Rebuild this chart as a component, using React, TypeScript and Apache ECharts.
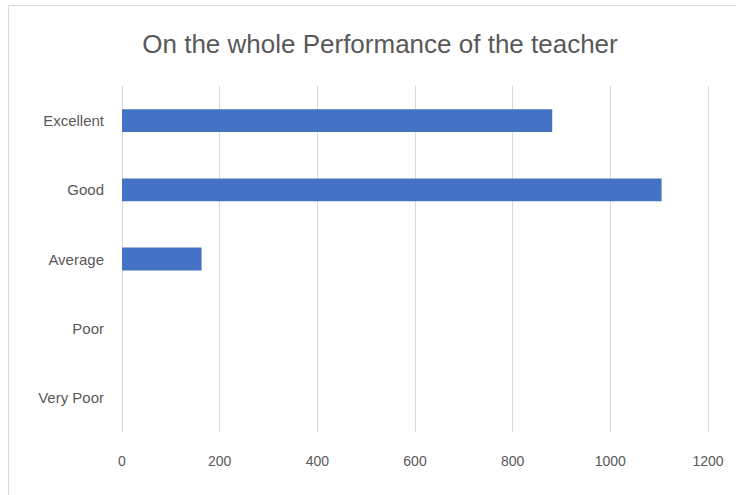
import React, { useEffect, useRef } from "react";
import * as echarts from "echarts";

const categories = ["Excellent", "Good", "Average", "Poor", "Very Poor"];
const values = [881, 1105, 163, 0, 0];
const titleText = "On the whole Performance of the teacher";

export default function App() {
  const ref = useRef<HTMLDivElement>(null);
  useEffect(() => {
    document.body.style.margin = "0";
    const chart = echarts.init(ref.current!, null, { renderer: "svg" });
    chart.setOption({
      animation: false,
      backgroundColor: "#ffffff",
      title: {
        text: titleText,
        left: 375,
        textAlign: "center",
        top: 26,
        textStyle: {
          fontFamily: "Liberation Sans",
          fontSize: 26,
          fontWeight: "normal",
          color: "#595959",
        },
      },
      graphic: [
        {
          type: "rect",
          shape: { x: 8.5, y: 5.5, width: 760, height: 520 },
          style: { fill: "none", stroke: "#d9d9d9", lineWidth: 1 },
          silent: true,
        },
      ],
      grid: { left: 122, right: 28, top: 86, bottom: 63, containLabel: false },
      xAxis: {
        type: "value",
        min: 0,
        max: 1200,
        interval: 200,
        axisLine: { show: false },
        axisTick: { show: false },
        splitLine: { show: true, lineStyle: { color: "#d9d9d9", width: 1 } },
        axisLabel: {
          margin: 22,
          fontFamily: "Liberation Sans",
          fontSize: 14,
          color: "#595959",
          formatter: (v: number) => String(v),
        },
      },
      yAxis: {
        type: "category",
        data: categories,
        inverse: true,
        axisLine: { show: false },
        axisTick: { show: false },
        splitLine: { show: false },
        axisLabel: {
          margin: 18,
          fontFamily: "Liberation Sans",
          fontSize: 15,
          color: "#595959",
        },
      },
      series: [
        {
          type: "bar",
          data: values,
          barWidth: "33%",
          itemStyle: { color: "#4472C4" },
        },
      ],
    });
    return () => chart.dispose();
  }, []);
  return (
    <div
      ref={ref}
      style={{ position: "absolute", left: 0, top: 0, width: 736, height: 495 }}
    />
  );
}
